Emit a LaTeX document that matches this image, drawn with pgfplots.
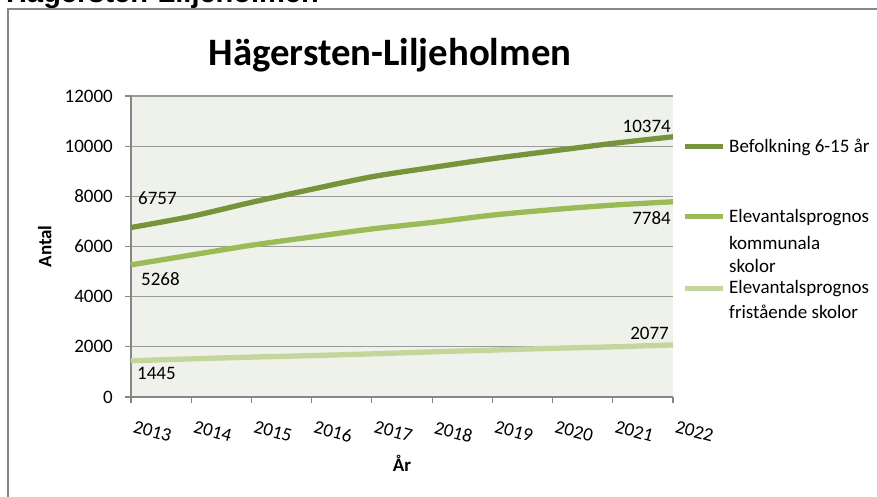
\documentclass[border=0pt]{standalone}
\usepackage{pgfplots}
\pgfplotsset{compat=1.18}
\usepackage{fontspec}
\setmainfont{Carlito}
\newfontfamily\arialfont{Liberation Sans}
\definecolor{cA}{HTML}{77933C}
\definecolor{cB}{HTML}{9BBB59}
\definecolor{cC}{HTML}{C3D69B}
\definecolor{bgcol}{HTML}{EFF2EA}
\definecolor{axisgray}{HTML}{868686}
\definecolor{gridgray}{HTML}{9A9A9A}
\definecolor{framegray}{HTML}{878787}
\newcommand{\fs}{\fontsize{19}{23}\selectfont}
\begin{document}
\begin{tikzpicture}[x=1pt,y=1pt]
\useasboundingbox (0,0) rectangle (877,496);
\node[anchor=base west, inner sep=0, font=\arialfont\bfseries\fontsize{29}{34}\selectfont] at (6,493.3) {Hägersten-Liljeholmen};
\draw[framegray, line width=2pt] (885,486.5) -- (8,486.5) -- (8,-5);
\node[anchor=base, inner sep=0, font=\bfseries\fontsize{38.8}{44}\selectfont] at (390,430) {Hägersten-Liljeholmen};
\begin{axis}[at={(131pt,99pt)}, anchor=south west, scale only axis,
  width=542pt, height=301pt,
  xmin=2013, xmax=2022, ymin=0, ymax=12000,
  enlargelimits=false,
  axis x line*=bottom, axis y line*=left,
  axis line style={draw=axisgray, line width=1.3pt, -},
  axis background/.style={fill=bgcol},
  xtick={2013,2014,2015,2016,2017,2018,2019,2020,2021,2022},
  xticklabels={2013,2014,2015,2016,2017,2018,2019,2020,2021,2022},
  ytick={0,2000,4000,6000,8000,10000,12000},
  scaled y ticks=false,
  tick align=outside, major tick length=6pt,
  tick style={axisgray, line width=1.2pt},
  ymajorgrids, major grid style={gridgray, line width=1.2pt},
  /pgf/number format/1000 sep={},
  /pgf/number format/assume math mode=true,
  yticklabel style={font=\fs, inner sep=0pt, anchor=east, xshift=-12pt},
  xticklabel style={font=\fs, inner sep=0pt, rotate=-15, anchor=north west, xshift=8.7pt, yshift=-15.6pt},
  ylabel={\bfseries Antal},
  ylabel style={font=\fs, at={(axis description cs:-0.159,0.5)}, anchor=center, rotate=0},
  xlabel={\bfseries År},
  xlabel style={font=\fs, at={(axis description cs:0.5,-0.22)}, anchor=center},
  clip=false,
]
\addplot[cC, line width=5.3pt, smooth] coordinates {
(2013,1445) (2014,1520) (2015,1590) (2016,1650) (2017,1720) (2018,1800) (2019,1870) (2020,1940) (2021,2000) (2022,2077)};
\addplot[cB, line width=5.3pt, smooth] coordinates {
(2013,5268) (2014,5660) (2015,6050) (2016,6380) (2017,6700) (2018,6960) (2019,7250) (2020,7470) (2021,7650) (2022,7784)};
\addplot[cA, line width=5.3pt, smooth] coordinates {
(2013,6757) (2014,7200) (2015,7760) (2016,8280) (2017,8780) (2018,9150) (2019,9500) (2020,9810) (2021,10110) (2022,10374)};
\node[anchor=west, inner sep=0, font=\fs] at (axis cs:2013,6757) [xshift=7pt, yshift=29.5pt] {6757};
\node[anchor=west, inner sep=0, font=\fs] at (axis cs:2013,5268) [xshift=10pt, yshift=-14pt] {5268};
\node[anchor=west, inner sep=0, font=\fs] at (axis cs:2013,1445) [xshift=6pt, yshift=-12.7pt] {1445};
\node[anchor=east, inner sep=0, font=\fs] at (axis cs:2022,10374) [xshift=-2pt, yshift=10pt] {10374};
\node[anchor=east, inner sep=0, font=\fs] at (axis cs:2022,7784) [xshift=-2pt, yshift=-16pt] {7784};
\node[anchor=east, inner sep=0, font=\fs] at (axis cs:2022,2077) [xshift=-4pt, yshift=12pt] {2077};
\end{axis}
% legend
\draw[cA, line width=5.3pt] (685,349.3) -- (723,349.3);
\draw[cB, line width=5.3pt] (685,279.3) -- (723,279.3);
\draw[cC, line width=5.3pt] (685,207.7) -- (723,207.7);
\begin{scope}[every node/.style={anchor=west, inner sep=0, font=\fs}]
\node at (729,349) {Befolkning 6-15 år};
\node at (729,278) {Elevantalsprognos};
\node at (729,253.5) {kommunala};
\node at (729,230) {skolor};
\node at (729,207.7) {Elevantalsprognos};
\node at (729,184.3) {fristående skolor};
\end{scope}
\end{tikzpicture}
\end{document}
